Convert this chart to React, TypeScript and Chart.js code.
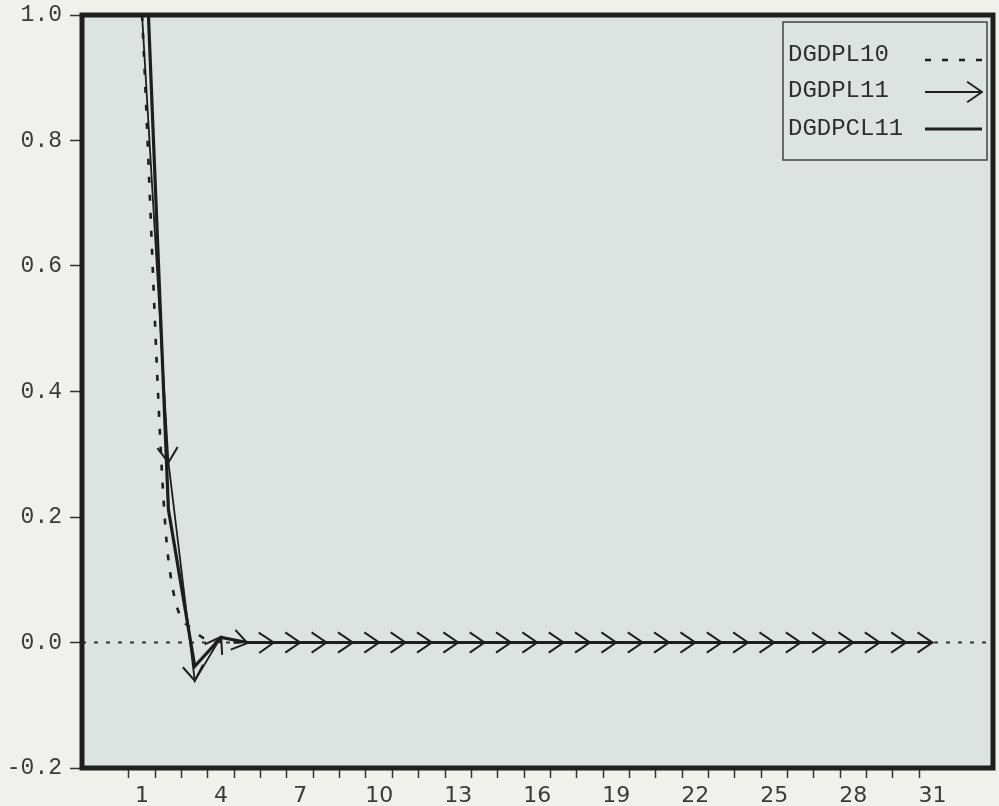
import React, { useEffect, useRef } from 'react';
import { Chart, registerables } from 'chart.js';

Chart.register(...registerables);

// ---- data ----
const periods = [1, 2, 3, 4, 5, 6, 7, 8, 9, 10, 11, 12, 13, 14, 15, 16, 17, 18, 19, 20, 21, 22, 23, 24, 25, 26, 27, 28, 29, 30, 31];
const labelledPeriods = [1, 4, 7, 10, 13, 16, 19, 22, 25, 28, 31];
const tickBoundaries = [0.5, 1.5, 2.5, 3.5, 4.5, 5.5, 6.5, 7.5, 8.5, 9.5, 10.5, 11.5, 12.5, 13.5, 14.5, 15.5, 16.5, 17.5, 18.5, 19.5, 20.5, 21.5, 22.5, 23.5, 24.5, 25.5, 26.5, 27.5, 28.5, 29.5, 30.5];
const yTickValues = [-0.2, 0.0, 0.2, 0.4, 0.6, 0.8, 1.0];

const seriesNames = ['DGDPL10', 'DGDPL11', 'DGDPCL11'];
const dgdpl10 = [1.0, 0.132, 0.018, 0.001, 0, 0, 0, 0, 0, 0, 0, 0, 0, 0, 0, 0, 0, 0, 0, 0, 0, 0, 0, 0, 0, 0, 0, 0, 0, 0, 0];
const dgdpl11 = [1.0, 0.287, -0.061, 0.009, -0.001, 0, 0, 0, 0, 0, 0, 0, 0, 0, 0, 0, 0, 0, 0, 0, 0, 0, 0, 0, 0, 0, 0, 0, 0, 0, 0];
const dgdpcl11 = [1.25, 0.212, -0.038, 0.008, 0.0, 0, 0, 0, 0, 0, 0, 0, 0, 0, 0, 0, 0, 0, 0, 0, 0, 0, 0, 0, 0, 0, 0, 0, 0, 0, 0];

// ---- style ----
const PAGE_BG = '#f0f1ed';
const PLOT_BG = '#dde3e1';
const INK = '#1e1e1e';
const TEXT = '#3a3a3a';
const X_MIN = -1.28;
const X_MAX = 33.3;

function drawChevron(ctx: CanvasRenderingContext2D, x: number, y: number, angle: number, len: number, half: number) {
  ctx.beginPath();
  ctx.moveTo(x + Math.cos(angle + Math.PI - half) * len, y + Math.sin(angle + Math.PI - half) * len);
  ctx.lineTo(x, y);
  ctx.lineTo(x + Math.cos(angle + Math.PI + half) * len, y + Math.sin(angle + Math.PI + half) * len);
  ctx.stroke();
}

const decorPlugin = {
  id: 'decor',
  beforeDraw(chart: any) {
    const { ctx, chartArea: a } = chart;
    ctx.save();
    ctx.fillStyle = PLOT_BG;
    ctx.fillRect(a.left, a.top, a.right - a.left, a.bottom - a.top);
    ctx.restore();
  },
  beforeDatasetsDraw(chart: any) {
    const { ctx, chartArea: a } = chart;
    const y0 = chart.scales.y.getPixelForValue(0);
    ctx.save();
    ctx.strokeStyle = '#333';
    ctx.lineWidth = 2;
    ctx.setLineDash([4, 8]);
    ctx.beginPath();
    ctx.moveTo(a.left, y0);
    ctx.lineTo(a.right, y0);
    ctx.stroke();
    ctx.restore();
  },
  afterDatasetsDraw(chart: any) {
    const { ctx, chartArea: a } = chart;
    // arrow heads on DGDPL11
    const pts = chart.getDatasetMeta(1).data;
    ctx.save();
    ctx.beginPath();
    ctx.rect(a.left, a.top, a.right - a.left, a.bottom - a.top);
    ctx.clip();
    ctx.strokeStyle = INK;
    ctx.lineWidth = 2;
    ctx.lineJoin = 'miter';
    for (let i = 1; i < pts.length; i++) {
      const p = pts[i - 1];
      const c = pts[i];
      const ang = Math.atan2(c.y - p.y, c.x - p.x);
      drawChevron(ctx, c.x, c.y, ang, 18, 0.6);
    }
    ctx.restore();

    // frame
    ctx.save();
    ctx.strokeStyle = INK;
    ctx.lineWidth = 5;
    ctx.strokeRect(a.left, a.top, a.right - a.left, a.bottom - a.top);
    ctx.restore();

    // legend
    ctx.save();
    ctx.strokeStyle = '#444';
    ctx.lineWidth = 1.5;
    ctx.strokeRect(783, 22, 204, 138);
    ctx.font = '24px "Liberation Mono", "DejaVu Sans Mono", monospace';
    ctx.fillStyle = '#2e2e2e';
    ctx.textBaseline = 'middle';
    ctx.textAlign = 'left';
    const rows = [55, 91, 129];
    seriesNames.forEach((name, i) => ctx.fillText(name, 788, rows[i]));
    ctx.strokeStyle = INK;
    // dotted sample
    ctx.lineWidth = 2.5;
    ctx.setLineDash([6, 11]);
    ctx.beginPath();
    ctx.moveTo(925, rows[0] + 5);
    ctx.lineTo(983, rows[0] + 5);
    ctx.stroke();
    ctx.setLineDash([]);
    // arrow sample
    ctx.lineWidth = 1.8;
    ctx.beginPath();
    ctx.moveTo(925, rows[1] + 1);
    ctx.lineTo(982, rows[1] + 1);
    ctx.stroke();
    drawChevron(ctx, 982, rows[1] + 1, 0, 18, 0.6);
    // solid sample
    ctx.lineWidth = 3.2;
    ctx.beginPath();
    ctx.moveTo(925, rows[2]);
    ctx.lineTo(982, rows[2]);
    ctx.stroke();
    ctx.restore();
  },
};

export default function App() {
  const canvasRef = useRef<HTMLCanvasElement | null>(null);

  useEffect(() => {
    const canvas = canvasRef.current;
    if (!canvas) return;
    const toPts = (vals: number[]) => periods.map((p, i) => ({ x: p, y: vals[i] }));
    const chart = new Chart(canvas, {
      type: 'line',
      data: {
        datasets: [
          {
            label: seriesNames[0],
            data: toPts(dgdpl10),
            borderColor: INK,
            borderWidth: 2.6,
            borderDash: [6, 12],
            pointRadius: 0,
            cubicInterpolationMode: 'monotone',
            fill: false,
          },
          {
            label: seriesNames[1],
            data: toPts(dgdpl11),
            borderColor: INK,
            borderWidth: 1.8,
            pointRadius: 0,
            tension: 0,
            fill: false,
          },
          {
            label: seriesNames[2],
            data: toPts(dgdpcl11),
            borderColor: INK,
            borderWidth: 3.2,
            pointRadius: 0,
            tension: 0,
            fill: false,
          },
        ],
      },
      options: {
        animation: false,
        responsive: false,
        devicePixelRatio: 1,
        layout: { padding: { top: 15, right: 6, left: 0, bottom: 0 } },
        plugins: { legend: { display: false }, tooltip: { enabled: false } },
        scales: {
          x: {
            type: 'linear',
            min: X_MIN,
            max: X_MAX,
            afterBuildTicks: (scale: any) => {
              scale.ticks = tickBoundaries.map((v) => ({ value: v }));
            },
            afterFit: (scale: any) => {
              scale.height = 38;
              scale.paddingLeft = 0;
              scale.paddingRight = 0;
              scale.paddingTop = 0;
              scale.paddingBottom = 0;
            },
            border: { display: false },
            grid: {
              drawOnChartArea: false,
              drawTicks: true,
              tickLength: 10,
              tickColor: '#333',
              tickWidth: 1.5,
            },
            ticks: {
              autoSkip: false,
              maxRotation: 0,
              minRotation: 0,
              labelOffset: 13.17,
              padding: 5,
              color: TEXT,
              font: { family: '"DejaVu Sans", sans-serif', size: 22 },
              callback: (v: any) => {
                const n = Math.round(Number(v) + 0.5);
                return labelledPeriods.includes(n) ? String(n) : '';
              },
            },
          },
          y: {
            type: 'linear',
            min: -0.2,
            max: 1.0,
            afterBuildTicks: (scale: any) => {
              scale.ticks = yTickValues.map((v) => ({ value: v }));
            },
            afterFit: (scale: any) => {
              scale.width = 82;
              scale.paddingTop = 0;
              scale.paddingBottom = 0;
              scale.paddingLeft = 0;
              scale.paddingRight = 0;
            },
            border: { display: false },
            grid: {
              drawOnChartArea: false,
              drawTicks: true,
              tickLength: 12,
              tickColor: '#333',
              tickWidth: 1.5,
            },
            ticks: {
              padding: 8,
              color: TEXT,
              font: { family: '"Liberation Mono", "DejaVu Sans Mono", monospace', size: 23 },
              callback: (v: any) => {
                const n = Number(v);
                return Math.abs(n) < 1e-9 ? '0.0' : n.toFixed(1);
              },
            },
          },
        },
      },
      plugins: [decorPlugin],
    } as any);
    return () => chart.destroy();
  }, []);

  return (
    <div style={{ position: 'absolute', left: 0, top: 0, width: 999, height: 806, background: PAGE_BG }}>
      <canvas ref={canvasRef} width={999} height={806} style={{ display: 'block', width: 999, height: 806 }} />
    </div>
  );
}
